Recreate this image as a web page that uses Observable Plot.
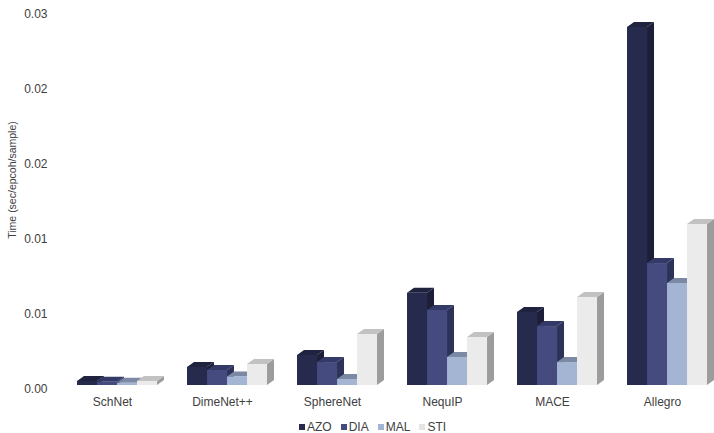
<!DOCTYPE html>
<html><head><meta charset="utf-8">
<script src="https://cdn.jsdelivr.net/npm/d3@7"></script>
<script src="https://cdn.jsdelivr.net/npm/@observablehq/plot@0.6"></script>
<style>
body{margin:0;background:#fff;font-family:"Liberation Sans",Arial,sans-serif;}
#wrap{position:relative;width:714px;height:433px;overflow:hidden;}
#legend{position:absolute;left:299px;top:420px;height:14px;display:flex;align-items:center;font-size:12px;color:#404040;line-height:14px;}
#legend .item{display:flex;align-items:center;margin-right:9px;}
#legend .sw{width:6px;height:6px;margin-right:2px;display:inline-block;}
</style></head><body><div id="wrap"></div>
<script>
// ---- data ----
const models = ["SchNet", "DimeNet++", "SphereNet", "NequIP", "MACE", "Allegro"];
const series = ["AZO", "DIA", "MAL", "STI"];
const AZO = [0.00027, 0.0012, 0.0020, 0.00615, 0.00487, 0.02387];
const DIA = [0.00022, 0.0010, 0.00153, 0.0050, 0.00393, 0.00813];
const MAL = [0.00015, 0.00057, 0.0004, 0.00187, 0.00153, 0.0068];
const STI = [0.00027, 0.0014, 0.0034, 0.0032, 0.00587, 0.01073];
const yTicks = [0, 0.005, 0.01, 0.015, 0.02, 0.025];
const yTickLabels = ["0.00", "0.01", "0.01", "0.02", "0.02", "0.03"];
const yLabel = "Time (sec/epcoh/sample)";

// ---- style ----
const frontColors = ["#262a4d", "#454b7f", "#a3b5d2", "#ebebeb"];
const topColors   = ["#1f2340", "#343a68", "#7b89a4", "#c2c2c2"];
const sideColors  = ["#1c1f37", "#2d3259", "#74829b", "#9c9c9c"];
const groupOffset = -0.318, barW = 0.1818, depthX = 7 / 110, depthY = 5 / 15000;

const seriesValues = [AZO, DIA, MAL, STI];
const bars = [], sides = [], tops = [];
models.forEach((m, i) => {
  series.forEach((s, j) => {
    const v = seriesValues[j][i];
    const x1 = i + groupOffset + j * barW, x2 = x1 + barW, id = m + "-" + s;
    bars.push({id, x1, x2, v, fill: frontColors[j]});
    sides.push({id, x: x2, y1: 0, y2: v, fill: sideColors[j]});
    sides.push({id, x: x2 + depthX, y1: depthY, y2: v + depthY, fill: sideColors[j]});
    tops.push({id, y: v, x1, x2, fill: topColors[j]});
    tops.push({id, y: v + depthY, x1: x1 + depthX, x2: x2 + depthX, fill: topColors[j]});
  });
});

const chart = Plot.plot({
  width: 714, height: 433,
  marginLeft: 57, marginRight: 2.5, marginTop: 10, marginBottom: 48,
  style: {fontFamily: '"Liberation Sans", Arial, sans-serif', fontSize: "12px", color: "#404040", background: "#fff"},
  x: {domain: [-0.5, 5.45]},
  y: {domain: [0, 0.025]},
  color: {type: "identity"},
  marks: [
    Plot.areaY(sides, {x: "x", y1: "y1", y2: "y2", z: "id", fill: "fill"}),
    Plot.areaX(tops, {y: "y", x1: "x1", x2: "x2", z: "id", fill: "fill"}),
    Plot.rect(bars, {x1: "x1", x2: "x2", y1: 0, y2: "v", fill: "fill"}),
    Plot.axisY({ticks: yTicks, tickFormat: d => yTickLabels[yTicks.indexOf(d)], tickSize: 0, tickPadding: 10, dy: 4, label: null}),
    Plot.axisX({ticks: models.map((_, i) => i), tickFormat: i => models[i], tickSize: 0, tickPadding: 12, label: null}),
    Plot.text([yLabel], {text: d => d, frameAnchor: "left", rotate: -90, dx: -45, dy: -18, fontSize: 10.5, textAnchor: "middle", lineAnchor: "middle", fill: "#404040"})
  ]
});
const wrap = document.getElementById("wrap");
wrap.appendChild(chart);

const legend = document.createElement("div");
legend.id = "legend";
series.forEach((s, j) => {
  const it = document.createElement("span");
  it.className = "item";
  const sw = document.createElement("span");
  sw.className = "sw";
  sw.style.background = frontColors[j];
  if (j === 3) sw.style.background = "#e4e4e4";
  it.appendChild(sw);
  it.appendChild(document.createTextNode(s));
  legend.appendChild(it);
});
wrap.appendChild(legend);
</script>
</body></html>
